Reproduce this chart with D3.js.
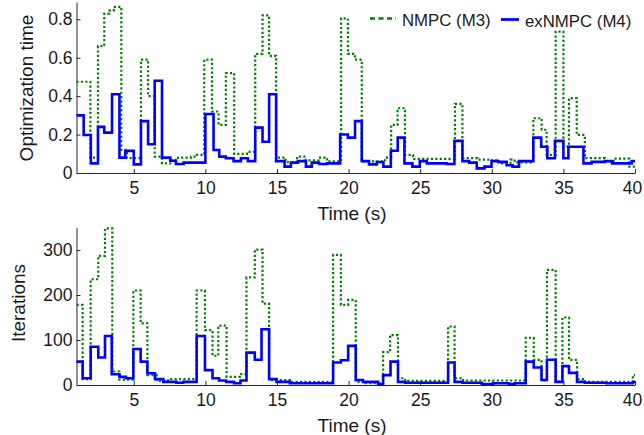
<!DOCTYPE html>
<html>
<head>
<meta charset="utf-8">
<script src="https://cdn.jsdelivr.net/npm/d3@7"></script>
<style>
  html, body { margin: 0; padding: 0; background: #fff; }
  svg { display: block; }
  text { font-family: "Liberation Sans", Arial, Helvetica, sans-serif; fill: #1a1a1a; }
</style>
</head>
<body>
<svg id="chart" width="644" height="435"></svg>
<script>
// ---------- DATA (step breakpoints: value holds from t[i] to t[i+1]) ----------
const xTicks = [5, 10, 15, 20, 25, 30, 35, 40];
const topYTicks = [0, 0.2, 0.4, 0.6, 0.8];
const botYTicks = [0, 100, 200, 300];
const seriesNames = ["NMPC (M3)", "exNMPC (M4)"];

// Optimization time — NMPC (M3)
const nmpcTimeT = [1, 1.97, 2.5, 2.94, 3.29, 3.6, 4.13, 4.52, 5.5, 6.0, 6.46, 6.97, 7.67, 8.1, 9.0, 9.4, 9.92, 10.46, 10.92, 11.43, 12.01, 12.9, 13.48, 13.99, 14.45, 14.94, 15.6, 16.4, 17.0, 17.9, 18.5, 19.48, 19.95, 20.45, 20.92, 22.55, 22.97, 23.42, 23.94, 24.5, 27.43, 27.95, 29.0, 29.9, 30.5, 31.3, 31.6, 32.9, 33.48, 33.83, 34.46, 35.0, 35.39, 35.93, 36.5, 37.9, 38.5, 39.6, 40];
const nmpcTimeV = [0.475, 0.08, 0.66, 0.83, 0.845, 0.865, 0.12, 0.077, 0.59, 0.40, 0.085, 0.05, 0.068, 0.08, 0.085, 0.094, 0.59, 0.32, 0.25, 0.52, 0.10, 0.11, 0.62, 0.82, 0.61, 0.08, 0.057, 0.085, 0.066, 0.08, 0.06, 0.805, 0.62, 0.59, 0.06, 0.08, 0.25, 0.337, 0.094, 0.073, 0.36, 0.077, 0.07, 0.066, 0.05, 0.07, 0.055, 0.285, 0.225, 0.094, 0.736, 0.137, 0.39, 0.198, 0.077, 0.06, 0.075, 0.033, 0.033];

// Optimization time — exNMPC (M4)
const exTimeT = [1, 1.5, 2.0, 2.5, 2.94, 3.48, 4.0, 4.41, 5.0, 5.5, 6.0, 6.46, 6.97, 7.55, 7.94, 8.48, 10.0, 10.57, 10.97, 11.43, 11.97, 12.48, 12.97, 13.48, 13.99, 14.45, 14.94, 15.53, 15.97, 16.46, 17.02, 17.43, 17.94, 18.48, 19.41, 19.95, 20.45, 20.92, 21.43, 21.97, 22.43, 22.95, 23.43, 23.9, 24.46, 24.97, 25.46, 26.85, 27.39, 27.95, 28.42, 28.95, 29.49, 29.98, 30.46, 31.04, 31.45, 31.9, 32.9, 33.45, 33.88, 34.41, 35.0, 35.35, 36.4, 36.97, 37.9, 38.4, 39.77, 40];
const exTimeV = [0.30, 0.198, 0.05, 0.24, 0.21, 0.41, 0.08, 0.115, 0.045, 0.27, 0.15, 0.48, 0.08, 0.064, 0.047, 0.054, 0.307, 0.12, 0.085, 0.077, 0.062, 0.077, 0.062, 0.236, 0.163, 0.41, 0.062, 0.033, 0.054, 0.062, 0.033, 0.054, 0.047, 0.05, 0.20, 0.184, 0.27, 0.062, 0.045, 0.057, 0.033, 0.116, 0.184, 0.05, 0.033, 0.062, 0.05, 0.047, 0.167, 0.062, 0.054, 0.024, 0.033, 0.062, 0.058, 0.04, 0.033, 0.062, 0.184, 0.137, 0.077, 0.167, 0.077, 0.137, 0.05, 0.058, 0.062, 0.05, 0.062, 0.062];

// Iterations — NMPC (M3)
const nmpcIterT = [1, 1.43, 1.99, 2.52, 2.99, 3.5, 4.0, 4.97, 5.48, 5.95, 6.6, 7.4, 9.39, 9.97, 10.5, 10.9, 11.48, 12.4, 12.87, 13.45, 13.99, 14.45, 15.9, 18.92, 19.46, 19.97, 20.5, 21.2, 22.41, 22.9, 23.45, 23.95, 26.95, 27.4, 28.0, 32.37, 32.93, 33.47, 33.85, 34.46, 34.93, 35.39, 35.95, 36.5, 39.85, 40];
const nmpcIterV = [178, 13, 235, 287, 348, 30, 12, 210, 137, 22, 9, 13, 210, 122, 65, 132, 18, 24, 239, 301, 181, 11, 7, 289, 178, 189, 7, 4, 73, 111, 15, 9, 130, 15, 10, 105, 56, 10, 256, 7, 150, 56, 13, 7, 22, 22];

// Iterations — exNMPC (M4)
const exIterT = [1, 1.43, 1.99, 2.52, 2.99, 3.46, 4.0, 4.45, 4.97, 5.48, 5.95, 6.48, 7.06, 7.98, 8.45, 9.39, 9.97, 10.5, 10.95, 11.45, 12.0, 12.45, 12.87, 13.45, 13.92, 14.45, 14.97, 15.9, 18.92, 19.46, 19.97, 20.5, 21.0, 22.06, 22.41, 22.93, 23.45, 23.95, 26.95, 27.4, 27.95, 29.3, 30.1, 31.2, 31.6, 32.37, 32.93, 33.47, 33.85, 34.46, 34.93, 35.39, 35.95, 36.5, 38.0, 39.85, 40];
const exIterV = [52, 15, 85, 61, 109, 24, 18, 15, 80, 52, 26, 13, 7, 5, 7, 109, 33, 15, 10, 7, 4, 10, 72, 56, 124, 13, 7, 4, 50, 55, 87, 11, 7, 2, 22, 52, 7, 5, 50, 7, 5, 2, 4, 2, 4, 52, 39, 11, 56, 7, 42, 27, 7, 5, 4, 7, 7];

// ---------- DRAWING ----------
const svg = d3.select("#chart");
const FONT_TICK = 17.5, FONT_LABEL = 19, FONT_LEG = 16.8;
const GREEN = "#008000", BLUE = "#0000ff", AXIS = "#262626";

const x = d3.scaleLinear().domain([1, 40]).range([76.5, 635]);

function panel(cfg) {
  const y = d3.scaleLinear().domain(cfg.yDomain).range([cfg.y0, cfg.y1]);
  const g = svg.append("g");

  // x axis
  const xa = g.append("g").attr("transform", `translate(0,${cfg.y0})`)
    .call(d3.axisBottom(x).tickValues(xTicks).tickFormat(d3.format("d")).tickSizeInner(-4).tickSizeOuter(0).tickPadding(9));
  // y axis
  const ya = g.append("g").attr("transform", `translate(${x(1)},0)`)
    .call(d3.axisLeft(y).tickValues(cfg.yTicks).tickFormat(cfg.fmt).tickSizeInner(-4).tickSizeOuter(0).tickPadding(4));
  [xa, ya].forEach(a => {
    a.select(".domain").attr("stroke", AXIS).attr("stroke-width", 1);
    a.selectAll(".tick line").attr("stroke", AXIS).attr("stroke-width", 1);
    a.selectAll(".tick text").attr("font-size", FONT_TICK).attr("fill", "#1a1a1a")
      .style("font-family", '"Liberation Sans", Arial, sans-serif');
  });
  // keep the last x label ("40") inside the picture
  xa.selectAll(".tick text").filter(d => d === 40).attr("dx", -3);

  const line = d3.line().curve(d3.curveStepAfter).x(d => x(d[0])).y(d => y(d[1]));
  const zip = (T, V) => T.map((t, i) => [t, V[i]]);

  g.append("path").datum(zip(cfg.greenT, cfg.greenV)).attr("d", line)
    .attr("fill", "none").attr("stroke", GREEN).attr("stroke-width", 2.2)
    .attr("stroke-dasharray", "2.2,2.2");
  g.append("path").datum(zip(cfg.blueT, cfg.blueV)).attr("d", line)
    .attr("fill", "none").attr("stroke", BLUE).attr("stroke-width", 2.6)
    .attr("stroke-linejoin", "miter");

  // x label
  g.append("text").attr("x", 352).attr("y", cfg.y0 + 47).attr("text-anchor", "middle")
    .attr("font-size", FONT_LABEL).text("Time (s)");
  // y label
  g.append("text").attr("transform", `translate(${cfg.ylx},${cfg.yly}) rotate(-90)`)
    .attr("text-anchor", "middle").attr("font-size", FONT_LABEL).text(cfg.ylabel);
}

panel({
  yDomain: [0, 0.89], y0: 173, y1: 2, yTicks: topYTicks, fmt: d => d === 0 ? "0" : d3.format(".1f")(d),
  greenT: nmpcTimeT, greenV: nmpcTimeV, blueT: exTimeT, blueV: exTimeV,
  ylabel: "Optimization time", ylx: 33, yly: 88
});
panel({
  yDomain: [0, 350], y0: 385, y1: 227.5, yTicks: botYTicks, fmt: d3.format("d"),
  greenT: nmpcIterT, greenV: nmpcIterV, blueT: exIterT, blueV: exIterV,
  ylabel: "Iterations", ylx: 25, yly: 303
});

// legend
const leg = svg.append("g");
leg.append("line").attr("x1", 370).attr("x2", 396).attr("y1", 18.5).attr("y2", 18.5)
  .attr("stroke", GREEN).attr("stroke-width", 2.4).attr("stroke-dasharray", "5,3.5");
leg.append("text").attr("x", 402).attr("y", 26).attr("font-size", FONT_LEG).text(seriesNames[0]);
leg.append("line").attr("x1", 501).attr("x2", 519).attr("y1", 19.5).attr("y2", 19.5)
  .attr("stroke", BLUE).attr("stroke-width", 2.8);
leg.append("text").attr("x", 525).attr("y", 26.5).attr("font-size", FONT_LEG).text(seriesNames[1]);
</script>
</body>
</html>
